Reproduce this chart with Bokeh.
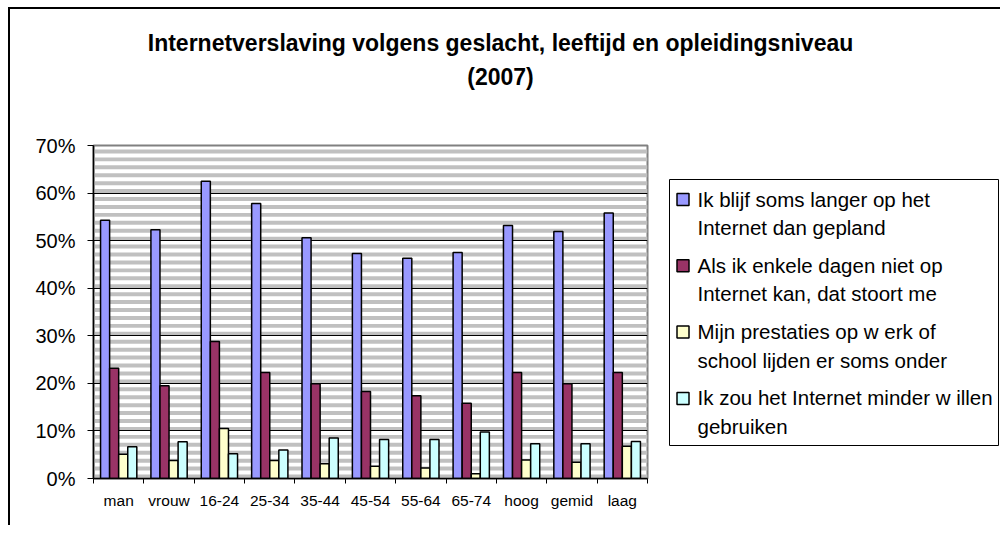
import numpy as np
from bokeh.plotting import figure
from bokeh.layouts import column, row
from bokeh.models import (Range1d, FixedTicker, PrintfTickFormatter, Label,
                          ColumnDataSource, CustomJSTickFormatter)
from bokeh.transform import dodge
from bokeh.embed import file_html
from bokeh.resources import INLINE

# ---------------- data ----------------
categories = ["man", "vrouw", "16-24", "25-34", "35-44", "45-54",
              "55-64", "65-74", "hoog", "gemid", "laag"]
langer = [54.3, 52.3, 62.5, 57.8, 50.6, 47.3, 46.3, 47.5, 53.2, 51.9, 55.8]
stoort = [23.2, 19.5, 28.8, 22.3, 19.9, 18.3, 17.4, 15.8, 22.3, 19.9, 22.3]
prestaties = [5.1, 3.8, 10.5, 3.8, 3.1, 2.6, 2.2, 1.0, 3.9, 3.4, 6.8]
minder = [6.7, 7.7, 5.2, 6.0, 8.5, 8.2, 8.2, 9.8, 7.3, 7.3, 7.8]

series_lines = [
    ["Ik blijf soms langer op het", "Internet dan gepland"],
    ["Als ik enkele dagen niet op", "Internet kan, dat stoort me"],
    ["Mijn prestaties op w erk of", "school lijden er soms onder"],
    ["Ik zou het Internet minder w illen", "gebruiken"],
]
colors = ["#9999FF", "#993366", "#FFFFCC", "#CCFFFF"]
y_ticks = [0, 10, 20, 30, 40, 50, 60, 70]
title_lines = ["Internetverslaving volgens geslacht, leeftijd en opleidingsniveau", "(2007)"]

FONT = "Liberation Sans"

TOTAL_W = 990
TITLE_H = 124
MAIN_W = 639
MAIN_H = 392
TOP_B = 12
BOT_B = 47
FRAME_H = MAIN_H - TOP_B - BOT_B
LEG_W = TOTAL_W - MAIN_W


def blank(w, h, x_end, y_end, top=0, bottom=0):
    f = figure(width=w, height=h, output_backend="svg", toolbar_location=None, tools="",
               x_range=Range1d(0, x_end), y_range=Range1d(0, y_end),
               x_axis_location=None, y_axis_location=None,
               min_border_left=0, min_border_right=0,
               min_border_top=top, min_border_bottom=bottom)
    f.grid.visible = False
    f.outline_line_color = None
    f.background_fill_color = "white"
    f.border_fill_color = "white"
    f.title.visible = False
    return f


# ---------------- title ----------------
pt = blank(TOTAL_W, TITLE_H, TOTAL_W, TITLE_H)
for t, ys in zip(title_lines, [91, 57]):
    pt.add_layout(Label(x=490, y=ys, text=t, text_font=FONT, text_font_style="bold",
                        text_font_size="23px", text_align="center",
                        text_baseline="middle", text_color="black"))

# ---------------- main chart ----------------
n = len(categories)
p = figure(width=MAIN_W, height=MAIN_H, output_backend="svg", toolbar_location=None, tools="",
           x_range=Range1d(-0.5, n - 0.5), y_range=Range1d(0, 70),
           min_border_left=83, min_border_right=2, min_border_top=TOP_B,
           min_border_bottom=BOT_B)
p.title.visible = False
p.background_fill_color = "white"
p.border_fill_color = "white"
p.outline_line_color = "#808080"
p.outline_line_width = 2

# background stripes (decoration)
stripe_b = np.arange(0, 70, 10 / 6)
stripe_src = ColumnDataSource(dict(b=stripe_b, t=stripe_b + 10 / 12))
p.quad(left=-0.5, right=n - 0.5, bottom="b", top="t", source=stripe_src,
       fill_color="#C0C0C0", line_color=None, level="image")

p.xgrid.visible = False
p.ygrid.ticker = FixedTicker(ticks=y_ticks)
p.ygrid.grid_line_color = "black"
p.ygrid.grid_line_width = 1

src = ColumnDataSource(dict(idx=list(range(n)), s0=langer, s1=stoort, s2=prestaties, s3=minder))
bw = 0.18
offsets = [-1.5 * bw, -0.5 * bw, 0.5 * bw, 1.5 * bw]
for k, col in enumerate(["s0", "s1", "s2", "s3"]):
    p.vbar(x=dodge("idx", offsets[k]), top=col, bottom=0, width=bw, source=src,
           fill_color=colors[k], line_color="black", line_width=1.5)

p.yaxis.ticker = FixedTicker(ticks=y_ticks)
p.yaxis.formatter = PrintfTickFormatter(format="%d%%")
p.yaxis.axis_line_color = "black"
p.yaxis.axis_line_width = 1.5
p.yaxis.major_tick_out = 6
p.yaxis.major_tick_in = 0
p.yaxis.major_tick_line_color = "black"
p.yaxis.minor_tick_line_color = None
p.yaxis.major_label_standoff = 12
p.yaxis.major_label_text_font = FONT
p.yaxis.major_label_text_font_size = "20px"
p.yaxis.major_label_text_color = "black"

p.xaxis.ticker = FixedTicker(ticks=list(range(n)), minor_ticks=[i - 0.5 for i in range(n + 1)])
p.xaxis.formatter = CustomJSTickFormatter(args=dict(cats=categories),
                                          code="return cats[Math.round(tick)] || '';")
p.xaxis.axis_line_color = "black"
p.xaxis.axis_line_width = 1.5
p.xaxis.major_tick_line_color = None
p.xaxis.minor_tick_line_color = "black"
p.xaxis.minor_tick_out = 5
p.xaxis.minor_tick_in = 0
p.xaxis.major_label_standoff = 7
p.xaxis.major_label_text_font = FONT
p.xaxis.major_label_text_font_size = "15.5px"
p.xaxis.major_label_text_color = "black"

# ---------------- legend (frame aligned with the chart frame) ----------------
pl = blank(LEG_W, MAIN_H, LEG_W, FRAME_H, top=TOP_B, bottom=BOT_B)
pl.quad(left=20, right=349, bottom=33, top=299, fill_color="white",
        line_color="black", line_width=1)
entry_step = 66.3
sw_x = [33.5] * 4
sw_y = [279 - entry_step * k for k in range(4)]
pl.rect(x=sw_x, y=sw_y, width=12, height=12, fill_color=colors,
        line_color="black", line_width=1.5)
for k in range(4):
    y1 = 279.5 - entry_step * k
    for m, line in enumerate(series_lines[k]):
        pl.add_layout(Label(x=48, y=y1 - 28.5 * m, text=line, text_font=FONT,
                            text_font_size="20.5px", text_align="left",
                            text_baseline="middle", text_color="black"))

layout = column(pt, row(p, pl))
layout.styles = {"margin-left": "8px", "margin-top": "7px",
                 "border-left": "2px solid #000000", "border-top": "2px solid #000000"}

open("out.html", "w").write(file_html(layout, INLINE))
